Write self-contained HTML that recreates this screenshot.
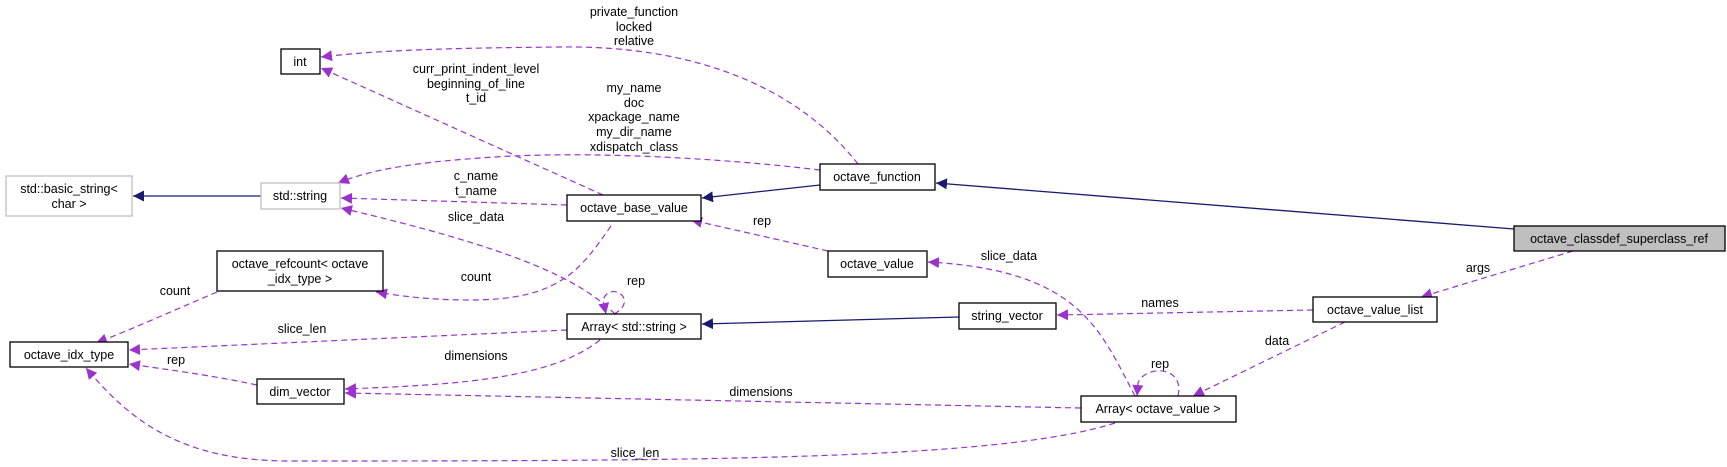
<!DOCTYPE html>
<html><head><meta charset="utf-8"><style>
html,body{margin:0;padding:0;background:#fff;}
svg{display:block;}
text{font-family:"Liberation Sans",Arial,sans-serif;font-size:12.5px;fill:#000;}
</style></head><body>
<svg width="1727" height="467" viewBox="0 0 1727 467" xmlns="http://www.w3.org/2000/svg">
<defs>
<marker id="ap" viewBox="0 0 10 10" refX="10" refY="5" markerWidth="11" markerHeight="11" markerUnits="userSpaceOnUse" orient="auto"><path d="M0,0 L10,5 L0,10 z" fill="#9a32cd"/></marker>
<marker id="an" viewBox="0 0 10 10" refX="10" refY="5" markerWidth="11" markerHeight="11" markerUnits="userSpaceOnUse" orient="auto"><path d="M0,0 L10,5 L0,10 z" fill="#191970"/></marker>
</defs>
<g fill="none" stroke="#191970" stroke-width="1.3">
<path d="M1514,229 L936,183" marker-end="url(#an)"/>
<path d="M820,185 L702,198" marker-end="url(#an)"/>
<path d="M261,196 L133,196" marker-end="url(#an)"/>
<path d="M959,317 L702,324" marker-end="url(#an)"/>
</g>
<g fill="none" stroke="#9a32cd" stroke-width="1.2" stroke-dasharray="6,4">
<path d="M858,164 C 800,90 700,45 560,47 C 450,48 380,50 321,57" marker-end="url(#ap)"/>
<path d="M820,170 C 720,158 580,150 480,158 C 410,163 370,170 338,183" marker-end="url(#ap)"/>
<path d="M603,195 L321,68" marker-end="url(#ap)"/>
<path d="M567,205 L341,198" marker-end="url(#ap)"/>
<path d="M615,314 C 580,280 520,250 341,208" marker-end="url(#ap)"/>
<path d="M611,226 C 580,270 560,300 470,300 C 430,300 400,296 376,292" marker-end="url(#ap)"/>
<path d="M828,251 L691,220" marker-end="url(#ap)"/>
<path d="M217,292 C 170,312 130,330 96,343" marker-end="url(#ap)"/>
<path d="M567,330 L129,350" marker-end="url(#ap)"/>
<path d="M257,385 C 210,375 170,370 129,364" marker-end="url(#ap)"/>
<path d="M600,340 C 550,380 450,385 345,389" marker-end="url(#ap)"/>
<path d="M1081,408 L345,393" marker-end="url(#ap)"/>
<path d="M1115,423 C 1000,460 700,461 290,461 C 180,461 130,420 86,368" marker-end="url(#ap)"/>
<path d="M1135,396 C 1100,330 1080,270 928,262" marker-end="url(#ap)"/>
<path d="M1313,310 L1057,315" marker-end="url(#ap)"/>
<path d="M1345,322 L1193,396" marker-end="url(#ap)"/>
<path d="M1573,251 L1421,297" marker-end="url(#ap)"/>
<path d="M614,314 C 640,300 610,280 603,300 L606,314" marker-end="url(#ap)"/>
<path d="M1178,396 C 1185,365 1145,365 1138,383 L1137,396" marker-end="url(#ap)"/>
</g>
<g stroke-width="1.3" fill="#fff">
<rect x="281" y="49" width="39" height="25" stroke="#000"/>
<rect x="6" y="176" width="126" height="40" stroke="#bfbfbf"/>
<rect x="261" y="183" width="79" height="26" stroke="#bfbfbf"/>
<rect x="567" y="195" width="134" height="26" stroke="#000"/>
<rect x="820" y="164" width="115" height="26" stroke="#000"/>
<rect x="217" y="251" width="166" height="40" stroke="#000"/>
<rect x="10" y="342" width="118" height="25" stroke="#000"/>
<rect x="567" y="314" width="134" height="25" stroke="#000"/>
<rect x="257" y="379" width="87" height="25" stroke="#000"/>
<rect x="828" y="251" width="99" height="26" stroke="#000"/>
<rect x="959" y="303" width="97" height="26" stroke="#000"/>
<rect x="1313" y="297" width="124" height="25" stroke="#000"/>
<rect x="1081" y="396" width="155" height="26" stroke="#000"/>
<rect x="1514" y="226" width="211" height="25" stroke="#000" fill="#bfbfbf"/>
</g>
<g text-anchor="middle">
<text x="300" y="66">int</text>
<text x="69" y="193">std::basic_string&lt;</text>
<text x="69" y="208">char &gt;</text>
<text x="300" y="200">std::string</text>
<text x="634" y="212">octave_base_value</text>
<text x="877" y="181">octave_function</text>
<text x="300" y="268">octave_refcount&lt; octave</text>
<text x="300" y="283">_idx_type &gt;</text>
<text x="69" y="359">octave_idx_type</text>
<text x="634" y="331">Array&lt; std::string &gt;</text>
<text x="300" y="396">dim_vector</text>
<text x="877" y="268">octave_value</text>
<text x="1007" y="320">string_vector</text>
<text x="1375" y="314">octave_value_list</text>
<text x="1158" y="413">Array&lt; octave_value &gt;</text>
<text x="1619" y="243">octave_classdef_superclass_ref</text>

<text x="634" y="16">private_function</text>
<text x="634" y="31">locked</text>
<text x="634" y="45">relative</text>
<text x="476" y="73">curr_print_indent_level</text>
<text x="476" y="88">beginning_of_line</text>
<text x="476" y="102">t_id</text>
<text x="634" y="92">my_name</text>
<text x="634" y="107">doc</text>
<text x="634" y="121">xpackage_name</text>
<text x="634" y="136">my_dir_name</text>
<text x="634" y="151">xdispatch_class</text>
<text x="476" y="180">c_name</text>
<text x="476" y="195">t_name</text>
<text x="476" y="221">slice_data</text>
<text x="762" y="225">rep</text>
<text x="476" y="281">count</text>
<text x="175" y="295">count</text>
<text x="636" y="285">rep</text>
<text x="302" y="333">slice_len</text>
<text x="476" y="360">dimensions</text>
<text x="176" y="364">rep</text>
<text x="761" y="396">dimensions</text>
<text x="635" y="457">slice_len</text>
<text x="1009" y="260">slice_data</text>
<text x="1478" y="272">args</text>
<text x="1160" y="307">names</text>
<text x="1277" y="345">data</text>
<text x="1160" y="368">rep</text>
</g>
</svg>
</body></html>
